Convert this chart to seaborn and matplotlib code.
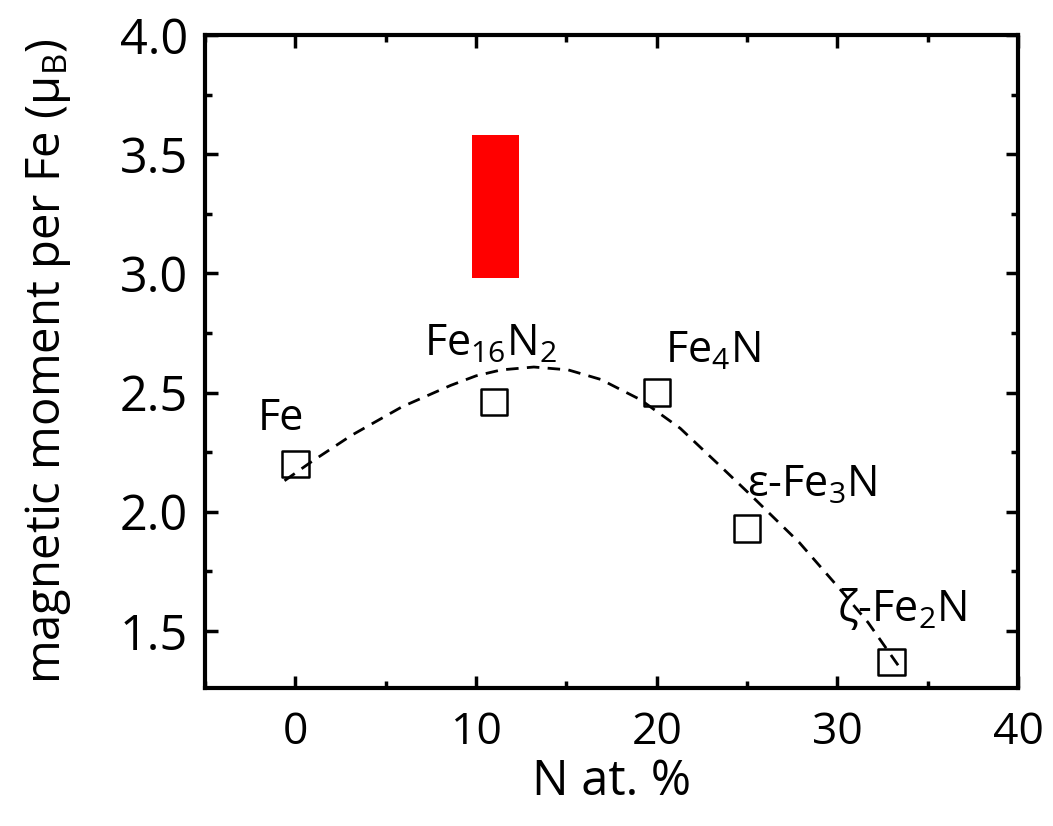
import matplotlib
matplotlib.use('Agg')
import matplotlib.pyplot as plt
from matplotlib.patches import Rectangle
from matplotlib.ticker import MultipleLocator, FormatStrFormatter
import seaborn as sns
import pandas as pd

# measured points
phases = ['Fe', 'Fe$_{16}$N$_2$', 'Fe$_4$N', 'ε-Fe$_3$N', 'ζ-Fe$_2$N']
n_at = [0, 11, 20, 25, 33]
moment = [2.20, 2.46, 2.50, 1.93, 1.37]

# label positions (x, y) next to each point
label_x = [-0.8, 10.8, 23.1, 28.6, 33.6]
label_y = [2.39, 2.70, 2.67, 2.11, 1.59]

# dashed guide curve
curve_x = [-0.6, 0.9, 3.1, 5.9, 8.6, 10.0, 11.4, 13.2, 15.1, 16.9, 19.1, 21.3,
           23.4, 25.2, 27.9, 30.2, 31.7, 33.6]
curve_y = [2.13, 2.21, 2.32, 2.44, 2.53, 2.57, 2.595, 2.607, 2.595, 2.555, 2.47, 2.35,
           2.20, 2.07, 1.87, 1.67, 1.535, 1.33]

# red box (Fe16N2 giant moment range)
box_x = [9.8, 12.4]
box_y = [2.98, 3.58]

sns.set_theme(style='ticks')
plt.rcParams['font.family'] = ['Open Sans', 'DejaVu Sans']
plt.rcParams['mathtext.default'] = 'regular'
plt.rcParams['text.color'] = 'black'
plt.rcParams['axes.labelcolor'] = 'black'
plt.rcParams['xtick.color'] = 'black'
plt.rcParams['ytick.color'] = 'black'

fig = plt.figure(figsize=(10.53, 8.26), dpi=100)
ax = fig.add_axes([0.1947, 0.167, 0.7721, 0.7906])

df = pd.DataFrame({'x': n_at, 'y': moment})
cf = pd.DataFrame({'x': curve_x, 'y': curve_y})

sns.lineplot(data=cf, x='x', y='y', ax=ax, color='black', lw=2.0,
             linestyle=(0, (4.5, 3)), sort=False)
sns.scatterplot(data=df, x='x', y='y', ax=ax, marker='s', s=360,
                facecolor='none', edgecolor='black', linewidth=1.8, zorder=3)

ax.add_patch(Rectangle((box_x[0], box_y[0]), box_x[1] - box_x[0], box_y[1] - box_y[0],
                       facecolor='#ff0000', edgecolor='none', zorder=2))

for t, lx, ly in zip(phases, label_x, label_y):
    ax.text(lx, ly, t, fontsize=31, ha='center', va='center')

ax.set_xlim(-5, 40)
ax.set_ylim(1.26, 4.0)
ax.xaxis.set_major_locator(MultipleLocator(10))
ax.xaxis.set_minor_locator(MultipleLocator(5))
ax.yaxis.set_major_locator(MultipleLocator(0.5))
ax.yaxis.set_minor_locator(MultipleLocator(0.25))
ax.yaxis.set_major_formatter(FormatStrFormatter('%.1f'))

ax.tick_params(which='both', direction='in', top=True, right=True, width=2.5)
ax.tick_params(which='major', length=9)
ax.tick_params(which='minor', length=5)
ax.tick_params(axis='y', labelsize=35, pad=12)
ax.tick_params(axis='x', labelsize=32, pad=16)
for s in ax.spines.values():
    s.set_linewidth(3)
    s.set_color('black')

ax.set_xlabel('N at. %', fontsize=35, labelpad=2)
ax.set_ylabel('magnetic moment per Fe (μ$_{B}$)', fontsize=34, labelpad=34)

fig.savefig('out.png', dpi=100)
